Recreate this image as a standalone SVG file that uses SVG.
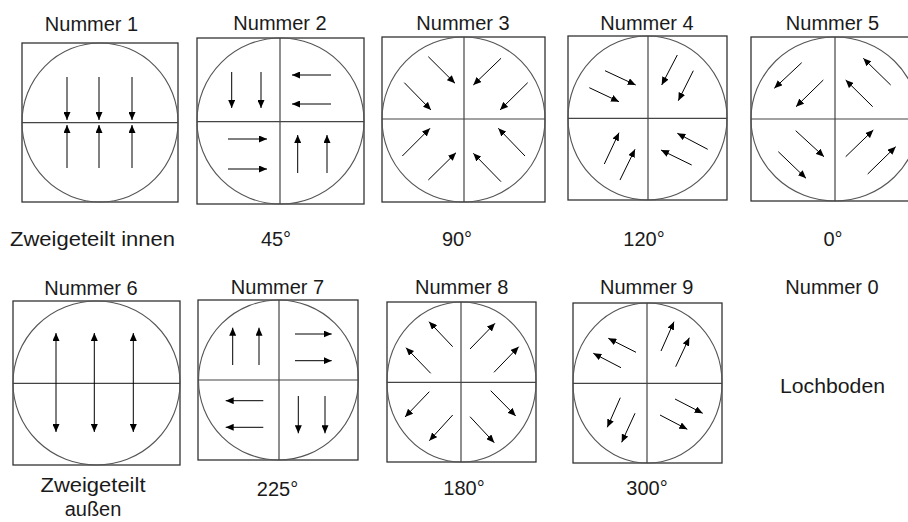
<svg xmlns="http://www.w3.org/2000/svg" width="908" height="522" viewBox="0 0 908 522">
<defs>
<marker id="ah" markerUnits="userSpaceOnUse" markerWidth="9" markerHeight="7" refX="8" refY="3.5" orient="auto-start-reverse">
<path d="M0,0 L8,3.5 L0,7 z" fill="#000"/>
</marker>
</defs>
<style>
.box{fill:none;stroke:#333;stroke-width:1.3}
.circ{fill:none;stroke:#555;stroke-width:1.1}
.div{stroke:#444;stroke-width:1.2}
.ar{stroke:#000;stroke-width:1;marker-end:url(#ah)}
.dar{stroke:#000;stroke-width:1;marker-end:url(#ah);marker-start:url(#ah)}
text{font-family:"Liberation Sans",Arial,sans-serif;font-size:20px;fill:#1a1a1a;text-anchor:middle}
</style>
<rect width="908" height="522" fill="#fff"/>

<g id="node-1">
<rect class="box" x="22" y="43" width="156" height="159"/>
<ellipse class="circ" cx="100" cy="122.5" rx="78" ry="79.5"/>
<line class="div" x1="22" y1="122.7" x2="178" y2="122.7" stroke="#666" stroke-width="1.6"/>
<text x="91.5" y="31">Nummer 1</text>
<text x="10" y="246" style="text-anchor:start" textLength="165" lengthAdjust="spacingAndGlyphs">Zweigeteilt innen</text>
</g>

<g id="node-2">
<rect class="box" x="197" y="38" width="167" height="166"/>
<ellipse class="circ" cx="280.5" cy="121" rx="83.5" ry="83"/>
<line class="div" x1="280" y1="38" x2="280" y2="204"/>
<line class="div" x1="197" y1="121.7" x2="364" y2="121.7"/>
<text x="280" y="30">Nummer 2</text>
<text x="276" y="246">45°</text>
</g>

<g id="node-3">
<rect class="box" x="382" y="37" width="163" height="165"/>
<ellipse class="circ" cx="463.5" cy="119.5" rx="81.5" ry="82.5"/>
<line class="div" x1="464" y1="37" x2="464" y2="202"/>
<line class="div" x1="382" y1="119" x2="545" y2="119"/>
<text x="463" y="30">Nummer 3</text>
<text x="457" y="246">90°</text>
</g>

<g id="node-4">
<rect class="box" x="568" y="36" width="159" height="164"/>
<ellipse class="circ" cx="647.5" cy="118" rx="79.5" ry="82"/>
<line class="div" x1="648" y1="36" x2="648" y2="200"/>
<line class="div" x1="568" y1="118.3" x2="727" y2="118.3"/>
<text x="647" y="30">Nummer 4</text>
<text x="644" y="246">120°</text>
</g>

<g id="node-5">
<rect class="box" x="751" y="37" width="168" height="164"/>
<ellipse class="circ" cx="835" cy="119" rx="84" ry="82"/>
<line class="div" x1="835" y1="37" x2="835" y2="201"/>
<line class="div" x1="751" y1="119" x2="919" y2="119"/>
<text x="832.5" y="30">Nummer 5</text>
<text x="833" y="246">0°</text>
</g>

<g id="node-6">
<rect class="box" x="13" y="301" width="167" height="164"/>
<ellipse class="circ" cx="96.5" cy="383" rx="83.5" ry="82"/>
<line class="div" x1="13" y1="383.3" x2="180" y2="383.3" stroke="#666" stroke-width="1.6"/>
<text x="91" y="295">Nummer 6</text>
<text x="93" y="492" textLength="105" lengthAdjust="spacingAndGlyphs">Zweigeteilt</text>
<text x="93" y="516">außen</text>
</g>

<g id="node-7">
<rect class="box" x="198" y="300" width="160" height="160"/>
<ellipse class="circ" cx="278.5" cy="380" rx="80" ry="80"/>
<line class="div" x1="279" y1="300" x2="279" y2="460"/>
<line class="div" x1="198" y1="380" x2="358" y2="380"/>
<text x="277.5" y="294">Nummer 7</text>
<text x="277.5" y="496">225°</text>
</g>

<g id="node-8">
<rect class="box" x="387" y="302" width="149" height="160"/>
<ellipse class="circ" cx="461.5" cy="382" rx="74.5" ry="80"/>
<line class="div" x1="461" y1="302" x2="461" y2="462"/>
<line class="div" x1="387" y1="382.3" x2="536" y2="382.3"/>
<text x="461.7" y="294">Nummer 8</text>
<text x="464" y="495">180°</text>
</g>

<g id="node-9">
<rect class="box" x="573" y="303" width="149" height="160"/>
<ellipse class="circ" cx="647.5" cy="383" rx="74.5" ry="80"/>
<line class="div" x1="647" y1="303" x2="647" y2="463"/>
<line class="div" x1="573" y1="383.3" x2="722" y2="383.3"/>
<text x="646.7" y="294">Nummer 9</text>
<text x="647" y="495">300°</text>
</g>

<g id="node-0">
<text x="832" y="294">Nummer 0</text>
<text x="832.5" y="392.7" textLength="105" lengthAdjust="spacingAndGlyphs">Lochboden</text>
</g>

<g id="connectors">
<g id="arrows-1">
<line class="ar" x1="67" y1="77" x2="67" y2="120"/>
<line class="ar" x1="99" y1="77" x2="99" y2="120"/>
<line class="ar" x1="132" y1="77" x2="132" y2="120"/>
<line class="ar" x1="67" y1="168" x2="67" y2="125"/>
<line class="ar" x1="99" y1="168" x2="99" y2="125"/>
<line class="ar" x1="132" y1="168" x2="132" y2="125"/>
</g>
<g id="arrows-2">
<line class="ar" x1="231.7" y1="72" x2="231.7" y2="108"/>
<line class="ar" x1="261" y1="72" x2="261" y2="108"/>
<line class="ar" x1="331" y1="75" x2="292" y2="75"/>
<line class="ar" x1="331" y1="104" x2="292" y2="104"/>
<line class="ar" x1="228" y1="139" x2="267" y2="139"/>
<line class="ar" x1="228" y1="169" x2="267" y2="169"/>
<line class="ar" x1="297.7" y1="173" x2="297.7" y2="135"/>
<line class="ar" x1="327" y1="173" x2="327" y2="135"/>
</g>
<g id="arrows-3">
<line class="ar" x1="428.3" y1="56.7" x2="455" y2="83.3"/>
<line class="ar" x1="404.3" y1="82.7" x2="431" y2="110"/>
<line class="ar" x1="501" y1="58.3" x2="473.3" y2="85"/>
<line class="ar" x1="527.7" y1="82.7" x2="500" y2="110"/>
<line class="ar" x1="402.3" y1="156" x2="430" y2="128.3"/>
<line class="ar" x1="428.3" y1="180" x2="456" y2="152.7"/>
<line class="ar" x1="525" y1="156" x2="498.3" y2="128.3"/>
<line class="ar" x1="501" y1="181.7" x2="473.3" y2="153.3"/>
</g>
<g id="arrows-4">
<line class="ar" x1="605" y1="70.7" x2="635.7" y2="85"/>
<line class="ar" x1="589.3" y1="87.7" x2="619" y2="101.7"/>
<line class="ar" x1="677.3" y1="55" x2="661.7" y2="85"/>
<line class="ar" x1="693.3" y1="70.7" x2="678.3" y2="100.7"/>
<line class="ar" x1="604.3" y1="164" x2="619" y2="132.7"/>
<line class="ar" x1="620" y1="180" x2="635" y2="149.3"/>
<line class="ar" x1="707.7" y1="149.3" x2="677.3" y2="133.3"/>
<line class="ar" x1="691.7" y1="165" x2="661" y2="150"/>
</g>
<g id="arrows-5">
<line class="ar" x1="801.7" y1="62.7" x2="774.3" y2="88.3"/>
<line class="ar" x1="823.3" y1="80" x2="796" y2="106.7"/>
<line class="ar" x1="890.7" y1="85" x2="863.3" y2="58.3"/>
<line class="ar" x1="872.7" y1="106.7" x2="845.7" y2="80"/>
<line class="ar" x1="795.7" y1="130.7" x2="824" y2="156.7"/>
<line class="ar" x1="778.3" y1="151.7" x2="806" y2="178.3"/>
<line class="ar" x1="845.7" y1="156.7" x2="873.3" y2="130"/>
<line class="ar" x1="867.7" y1="174" x2="895.7" y2="146.7"/>
</g>
<g id="arrows-6">
<line class="dar" x1="56" y1="333" x2="56" y2="432"/>
<line class="dar" x1="94.3" y1="333" x2="94.3" y2="432"/>
<line class="dar" x1="133.3" y1="333" x2="133.3" y2="432"/>
</g>
<g id="arrows-7">
<line class="ar" x1="232.7" y1="365" x2="232.7" y2="327.7"/>
<line class="ar" x1="259" y1="365" x2="259" y2="327.7"/>
<line class="ar" x1="295" y1="334" x2="331.7" y2="334"/>
<line class="ar" x1="295" y1="360.7" x2="331.7" y2="360.7"/>
<line class="ar" x1="263.3" y1="400.7" x2="225.7" y2="400.7"/>
<line class="ar" x1="263.3" y1="427.3" x2="225.7" y2="427.3"/>
<line class="ar" x1="298.3" y1="396" x2="298.3" y2="433.3"/>
<line class="ar" x1="325" y1="396" x2="325" y2="433.3"/>
</g>
<g id="arrows-8">
<line class="ar" x1="452.7" y1="346.7" x2="429" y2="321.7"/>
<line class="ar" x1="430.7" y1="373.3" x2="406" y2="347.7"/>
<line class="ar" x1="470" y1="349" x2="495" y2="323.3"/>
<line class="ar" x1="494" y1="372.3" x2="518.7" y2="346.7"/>
<line class="ar" x1="429.3" y1="391.7" x2="405" y2="417"/>
<line class="ar" x1="452.7" y1="415" x2="429.3" y2="440.7"/>
<line class="ar" x1="490.7" y1="390.7" x2="515.7" y2="416"/>
<line class="ar" x1="470" y1="416.7" x2="494.3" y2="442.7"/>
</g>
<g id="arrows-9">
<line class="ar" x1="636" y1="352.3" x2="608.3" y2="338.3"/>
<line class="ar" x1="621" y1="367.7" x2="593.3" y2="353.3"/>
<line class="ar" x1="661" y1="351" x2="674" y2="321.7"/>
<line class="ar" x1="675.7" y1="366.7" x2="689.3" y2="337.7"/>
<line class="ar" x1="620.3" y1="397.7" x2="607.3" y2="427.3"/>
<line class="ar" x1="635" y1="413.3" x2="621.7" y2="442.3"/>
<line class="ar" x1="675" y1="399" x2="702.7" y2="413.3"/>
<line class="ar" x1="660" y1="415" x2="687.3" y2="429.3"/>
</g>
</g>
</svg>
